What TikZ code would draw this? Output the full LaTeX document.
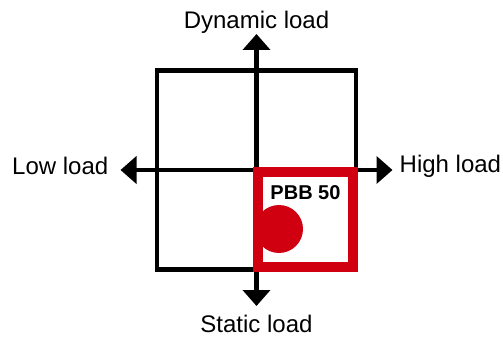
\documentclass[tikz,border=0pt]{standalone}
\usepackage{fontspec}
\setmainfont{Liberation Sans}
\usepackage{tikz}
\usetikzlibrary{arrows.meta,positioning,calc}
\definecolor{pbbred}{RGB}{208,0,17}
\def\ArmLen{136pt}
\def\QuadSize{199pt}
\def\BoxSize{95pt}

\begin{document}
\begin{tikzpicture}[
		>={Triangle[width=27pt,length=16pt]},
		axis/.style={line width=4.5pt,<->},
		quadbox/.style={draw,line width=4.5pt,minimum size=\QuadSize,inner sep=0pt,outer sep=0pt},
		pbbbox/.style={draw=pbbred,line width=10pt,minimum size=\BoxSize,inner sep=0pt,outer sep=0pt},
		lbl/.style={font=\fontsize{24}{28}\selectfont,inner sep=0pt},
	]
	\useasboundingbox (0,0) rectangle (503pt,338pt);
	\coordinate (o) at (256.5pt,168pt);
	\node[quadbox] (quad) at (o) {};
	\coordinate[above=\ArmLen of o] (up);
	\coordinate[below=\ArmLen of o] (down);
	\coordinate[left=\ArmLen of o] (lft);
	\coordinate[right=\ArmLen of o] (rgt);
	\draw[axis] (lft) -- (rgt);
	\draw[axis] (down) -- (up);
	% quadrant marker
	\coordinate (dot) at ($(o)+(22.5pt,-59pt)$);
	\fill[pbbred] (dot) circle (24pt);
	\node[pbbbox,anchor=north west] (pbb) at ($(o)+(1.5pt,-2pt)$) {};
	\node[font=\bfseries\fontsize{20}{24}\selectfont,inner sep=0pt,below=13pt of pbb.north] (pbblbl) {PBB 50};
	\node[lbl,above=0pt of up] (dynlbl) {Dynamic load};
	\node[lbl,below=9pt of down] (statlbl) {Static load};
	\node[lbl,left=12pt of lft,yshift=4pt] (lowlbl) {Low load};
	\node[lbl,right=7pt of rgt,yshift=4pt] (highlbl) {High load};
\end{tikzpicture}
\end{document}
